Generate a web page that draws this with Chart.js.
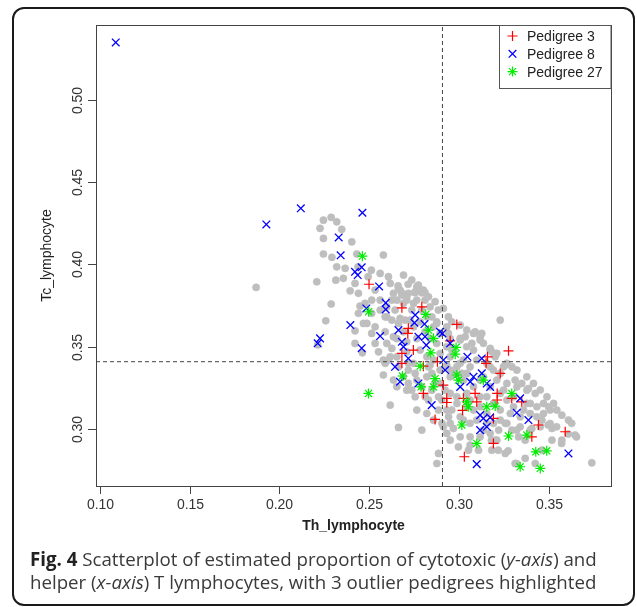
<!DOCTYPE html>
<html>
<head>
<meta charset="utf-8">
<script src="https://cdn.jsdelivr.net/npm/chart.js@4.4.1/dist/chart.umd.min.js"></script>
<style>
    html, body { margin: 0; padding: 0; background: #fff; }
    #wrap { position: relative; width: 637px; height: 607px; overflow: hidden; }
    #frame {
        position: absolute; left: 12px; top: 7px; width: 623px; height: 599px;
        box-sizing: border-box; border: 2px solid #1a1a1a; border-radius: 12px;
    }
    #chart { position: absolute; left: 0; top: 0; }
    .cap {
        position: absolute; left: 30px; white-space: nowrap;
        font-family: "Open Sans", sans-serif; font-size: 18.7px; line-height: 22px; color: #3a3a3a;
    }
    .cap b { color: #222; }
</style>
</head>
<body>
<div id="wrap">
    <div id="frame"></div>
    <canvas id="chart" width="637" height="607"></canvas>
    <div class="cap" id="cap1" style="top:548px"><b>Fig. 4</b> Scatterplot of estimated proportion of cytotoxic (<i>y-axis</i>) and</div>
    <div class="cap" id="cap2" style="top:571px">helper (<i>x-axis</i>) T lymphocytes, with 3 outlier pedigrees highlighted</div>
</div>
<script>
// Axis ranges and ticks
const X_MIN = 0.0978, X_MAX = 0.3847;
const Y_MIN = 0.2652, Y_MAX = 0.5456;
const X_TICKS = [0.10, 0.15, 0.20, 0.25, 0.30, 0.35];
const Y_TICKS = [0.30, 0.35, 0.40, 0.45, 0.50];
const X_TITLE = 'Th_lymphocyte';
const Y_TITLE = 'Tc_lymphocyte';

// Reference lines (dashed)
const V_LINE = 0.2908;
const H_LINE = 0.3408;

// Legend
const LEGEND_LABELS = ['Pedigree 3', 'Pedigree 8', 'Pedigree 27'];

// All samples (grey), [Th, Tc]
const grayPts = [
    [0.187,0.386],
    [0.2245,0.4269],[0.2288,0.4286],[0.2319,0.4259],[0.2347,0.4213],[0.2226,0.4219],[0.2245,0.4158],[0.2403,0.4137],
    [0.2245,0.4063],[0.2292,0.4043],[0.2319,0.3985],[0.2366,0.3976],[0.2431,0.4063],[0.2438,0.3985],
    [0.2208,0.3894],[0.2314,0.3904],[0.2356,0.3915],
    [0.2394,0.3839],[0.244,0.3824],[0.2421,0.3884],
    [0.2288,0.3759],[0.2449,0.3746],[0.244,0.3702],[0.2258,0.3657],[0.2421,0.3596],[0.2468,0.3641],
    [0.2213,0.351],[0.2421,0.3519],[0.2462,0.3462],
    [0.2494,0.3925],[0.2512,0.3965],
    [0.2579,0.4057],[0.2561,0.3945],[0.2607,0.3925],
    [0.2691,0.3935],[0.2737,0.3905],[0.2774,0.3874],[0.2793,0.3827],
    [0.2663,0.3854],[0.2682,0.3813],[0.2709,0.3783],
    [0.2811,0.3783],[0.2867,0.3773],[0.2885,0.3722],
    [0.2533,0.3844],[0.2514,0.3783],[0.2477,0.3763],
    [0.2589,0.3681],[0.2626,0.3783],[0.2644,0.3722],
    [0.2514,0.3702],[0.2487,0.3641],[0.2533,0.362],[0.2626,0.3661],
    [0.2718,0.3824],[0.2756,0.3833],
    [0.2849,0.3681],[0.2876,0.3651],[0.2858,0.362],
    [0.2663,0.3641],[0.27,0.3661],[0.2589,0.359],
    [0.3127,0.358],[0.3035,0.356],[0.309,0.359],[0.2941,0.358],
    [0.2765,0.3863],[0.2802,0.3843],[0.283,0.3803],[0.2913,0.3732],[0.2941,0.3681],[0.296,0.3651],
    [0.3007,0.3631],[0.3043,0.3601],[0.3081,0.358],[0.3118,0.356],[0.3136,0.352],[0.3174,0.3479],[0.3202,0.3438],
    [0.323,0.3661],
    [0.2617,0.3884],[0.2635,0.3824],[0.2598,0.3681],[0.2635,0.356],[0.2598,0.3519],[0.2579,0.3418],[0.2617,0.3438],
    [0.2672,0.3844],[0.2709,0.3803],[0.2691,0.3763],[0.2747,0.3763],[0.2672,0.3671],[0.2728,0.3661],[0.2784,0.3651],
    [0.2839,0.3742],[0.2876,0.3641],[0.2932,0.362],[0.2876,0.3519],[0.2932,0.3499],[0.3007,0.354],[0.3043,0.3499],
    [0.3081,0.3479],[0.3025,0.3418],[0.3099,0.3418],[0.3155,0.3398],
    [0.2784,0.3479],[0.2821,0.3438],[0.2747,0.3398],[0.2839,0.3387],[0.2932,0.3387],[0.2988,0.3377],
    [0.3007,0.355],[0.3072,0.352],[0.3118,0.354],[0.3174,0.3489],[0.3211,0.3459],
    [0.3267,0.3398],[0.3323,0.3357],[0.3378,0.3316],[0.3415,0.3276],[0.3453,0.3236],[0.349,0.3195],[0.3527,0.3154],
    [0.3508,0.3114],[0.3471,0.3093],[0.3434,0.3073],[0.3453,0.3012],[0.3397,0.2992],[0.3508,0.3032],
    [0.2951,0.3438],[0.3007,0.3398],[0.3062,0.3377],[0.3174,0.3377],[0.3248,0.3377],[0.2951,0.3316],[0.3044,0.3337],
    [0.3118,0.3296],[0.3211,0.3296],[0.3267,0.3276],[0.3323,0.3255],[0.3378,0.3235],[0.2951,0.3215],[0.2988,0.3195],
    [0.3118,0.3195],[0.3155,0.3195],[0.3267,0.3175],[0.3378,0.3154],[0.3434,0.3134],[0.2932,0.3114],[0.3007,0.3073],
    [0.3081,0.3114],[0.323,0.3114],[0.3286,0.3093],[0.3341,0.3073],[0.2951,0.3033],[0.3062,0.3033],[0.3192,0.3033],
    [0.3267,0.3033],[0.3341,0.3012],[0.2932,0.2972],[0.3007,0.2951],[0.3118,0.2951],[0.3174,0.2972],[0.3211,0.2931],
    [0.3322,0.2992],[0.2913,0.3012],[0.2951,0.2931],[0.3062,0.2901],
    [0.3183,0.3468],[0.3258,0.3388],[0.3295,0.3377],[0.3313,0.3296],[0.335,0.3276],[0.3387,0.3245],[0.3425,0.3215],
    [0.3471,0.3154],[0.3499,0.3134],[0.3545,0.3114],[0.3573,0.3083],[0.361,0.3053],[0.3628,0.3033],[0.3647,0.2962],
    [0.3573,0.2931],[0.3518,0.3002],[0.3462,0.3053],[0.3406,0.3002],[0.3369,0.2931],[0.3332,0.2951],[0.3295,0.2992],
    [0.3258,0.3033],[0.3221,0.2992],[0.3202,0.2931],[0.3183,0.287],[0.3258,0.285],[0.3313,0.2789],[0.3369,0.282],
    [0.3425,0.2789],[0.3462,0.287],[0.3518,0.2931],[0.374,0.2793],
    [0.2626,0.3489],[0.2607,0.3418],[0.2589,0.3398],[0.2663,0.3377],[0.2718,0.3357],[0.2756,0.3337],[0.283,0.3377],
    [0.2849,0.3337],[0.2867,0.3276],[0.2812,0.3195],[0.283,0.3175],[0.2904,0.3175],
    [0.2737,0.3235],[0.2756,0.3195],[0.2718,0.3276],
    [0.2617,0.3144],[0.2663,0.3008],[0.2793,0.2992],
    [0.2886,0.3114],[0.296,0.3114],[0.2969,0.3002],[0.2905,0.3033],
    [0.2997,0.289],[0.3053,0.287],[0.3109,0.287],
    [0.2886,0.285],[0.2877,0.2789],
    [0.3655,0.2951],[0.3609,0.2968],[0.3572,0.2911],[0.3544,0.3012],[0.3497,0.3023],[0.3274,0.2866],[0.3321,0.2789],
    [0.3219,0.287],[0.3181,0.2931],
    [0.2661,0.3869],[0.2717,0.3879],[0.2773,0.3869],[0.2811,0.3828],[0.2755,0.3828],[0.268,0.3828],
    [0.2579,0.3327],[0.2635,0.3296],[0.2691,0.3316],[0.2654,0.3256],[0.2709,0.3235],[0.2765,0.3296],[0.2793,0.3256],
    [0.2849,0.3235],[0.2895,0.3276],[0.2923,0.3235],[0.2886,0.3195],[0.2765,0.3114],[0.2821,0.3093],[0.2858,0.3053],
    [0.2942,0.3073],[0.2989,0.3154],[0.3044,0.3215],[0.3081,0.3256],[0.3025,0.3296],[0.2979,0.3337],[0.3062,0.3175],
    [0.3118,0.3134],[0.3155,0.3093],[0.3192,0.3154],[0.323,0.3215],[0.3174,0.3256],[0.3136,0.3316],[0.3192,0.3357],
    [0.323,0.3337],[0.3249,0.3236],[0.3304,0.3195],[0.3304,0.3134],[0.336,0.3114],[0.3397,0.3093],[0.3397,0.3154],
    [0.3044,0.3134],[0.3025,0.3053],[0.3099,0.3053],[0.3155,0.3033],[0.323,0.3053],[0.3137,0.2992],[0.3062,0.2951],
    [0.2561,0.3783],[0.2561,0.3722],[0.2598,0.3742],[0.2654,0.3783],[0.2737,0.3722],[0.2793,0.3722],[0.2765,0.3783],
    [0.2821,0.3681],[0.2747,0.362],[0.2812,0.359],[0.2691,0.359],[0.2654,0.3549],[0.2709,0.3529],[0.2765,0.3549],
    [0.284,0.3549],[0.2895,0.358],[0.2951,0.3549],[0.2895,0.3458],[0.2858,0.3418],[0.296,0.3479],[0.2709,0.3468],
    [0.2654,0.3438],[0.2718,0.3398],[0.2895,0.3357],[0.2821,0.3316],[0.2951,0.3357],[0.3016,0.3337],
    [0.2514,0.358],[0.2533,0.3519],[0.2552,0.3468]
];

// Pedigree 3 (red +)
const ped3Pts = [
    [0.2499,0.3879],[0.2682,0.3736],[0.2793,0.3742],[0.2718,0.3611],[0.2715,0.358],[0.2988,0.3635],
    [0.2951,0.3535],[0.2746,0.3479],[0.2682,0.3459],[0.2682,0.3398],[0.2802,0.3381],[0.288,0.3408],
    [0.3159,0.3438],[0.3151,0.3398],[0.3276,0.3474],[0.323,0.3337],[0.2913,0.3266],[0.2802,0.3215],
    [0.3213,0.3215],[0.3213,0.3175],[0.309,0.3215],[0.3025,0.3185],[0.302,0.3112],[0.2932,0.3185],
    [0.2932,0.316],[0.3294,0.3185],[0.335,0.3164],[0.3099,0.3164],[0.3192,0.3063],[0.3443,0.3023],
    [0.3406,0.2951],[0.3192,0.2911],[0.3592,0.2982],[0.2867,0.3057],[0.303,0.283]
];

// Pedigree 8 (blue x)
const ped8Pts = [
    [0.1088,0.535],[0.1927,0.4243],[0.2119,0.4341],[0.2462,0.4314],[0.233,0.4164],[0.2341,0.4055],
    [0.2421,0.3955],[0.2436,0.3935],[0.2458,0.3982],[0.2555,0.3866],[0.2395,0.3631],[0.2213,0.352],
    [0.2226,0.355],[0.2458,0.349],[0.2484,0.3732],[0.2592,0.3766],[0.2592,0.3726],[0.2756,0.3692],
    [0.2752,0.3645],[0.2808,0.3637],[0.2663,0.36],[0.2908,0.358],[0.2561,0.3564],[0.2774,0.356],
    [0.2811,0.356],[0.2682,0.3529],[0.2691,0.3499],[0.2818,0.3509],[0.2718,0.3428],[0.2644,0.3377],
    [0.2913,0.3418],[0.3047,0.3438],[0.3127,0.3428],[0.2895,0.359],[0.2951,0.352],[0.2923,0.3357],
    [0.3081,0.3316],[0.3127,0.3337],[0.3063,0.3286],[0.3007,0.3255],[0.3155,0.3276],[0.3174,0.3255],
    [0.3341,0.3185],[0.3322,0.3097],[0.3118,0.3083],[0.3136,0.3063],[0.3174,0.3069],[0.3387,0.3053],
    [0.3155,0.3012],[0.3118,0.2992],[0.361,0.285],[0.3099,0.2785],[0.2672,0.3286],[0.2774,0.3276],
    [0.2848,0.3144]
];

// Pedigree 27 (green *)
const ped27Pts = [
    [0.2462,0.405],[0.2497,0.3712],[0.2815,0.3696],[0.283,0.36],[0.2858,0.355],[0.2984,0.3495],
    [0.2979,0.3454],[0.2843,0.3462],[0.2784,0.3381],[0.2685,0.3321],[0.2496,0.3215],[0.2988,0.3327],
    [0.2997,0.3296],[0.3136,0.3296],[0.2867,0.3305],[0.2858,0.3255],[0.2789,0.3255],[0.3294,0.3215],
    [0.3043,0.3164],[0.3052,0.3134],[0.3155,0.3134],[0.3202,0.3138],[0.3016,0.3023],[0.3276,0.2956],
    [0.3378,0.2962],[0.3099,0.2911],[0.3428,0.286],[0.3489,0.2866],[0.3341,0.2769],[0.3453,0.2759]
];

function toXY(pts) {
    return pts.map(p => ({ x: p[0], y: p[1] }));
}

// R-like axes, box, legend
const rAxes = {
    id: 'rAxes',
    afterDraw(chart) {
        const ctx = chart.ctx;
        const area = chart.chartArea;
        const xs = chart.scales.x;
        const ys = chart.scales.y;
        ctx.save();

        // box
        ctx.strokeStyle = '#444';
        ctx.lineWidth = 1;
        ctx.strokeRect(area.left + 0.5, area.top + 0.5, area.right - area.left, area.bottom - area.top);

        ctx.fillStyle = '#333';
        ctx.font = '14px "Liberation Sans", Arial, sans-serif';

        // x axis
        ctx.textAlign = 'center';
        ctx.textBaseline = 'alphabetic';
        X_TICKS.forEach(v => {
            const px = Math.round(xs.getPixelForValue(v)) + 0.5;
            ctx.beginPath();
            ctx.moveTo(px, area.bottom);
            ctx.lineTo(px, area.bottom + 8);
            ctx.stroke();
            ctx.fillText(v.toFixed(2), px, area.bottom + 23);
        });

        // y axis (rotated labels)
        Y_TICKS.forEach(v => {
            const py = Math.round(ys.getPixelForValue(v)) + 0.5;
            ctx.beginPath();
            ctx.moveTo(area.left - 8, py);
            ctx.lineTo(area.left, py);
            ctx.stroke();
            ctx.save();
            ctx.translate(area.left - 14.5, py);
            ctx.rotate(-Math.PI / 2);
            ctx.fillText(v.toFixed(2), 0, 0);
            ctx.restore();
        });

        // titles
        ctx.fillStyle = '#222';
        ctx.font = 'bold 14px "Liberation Sans", Arial, sans-serif';
        ctx.fillText(X_TITLE, (area.left + area.right) / 2, area.bottom + 44);
        ctx.font = '14px "Liberation Sans", Arial, sans-serif';
        ctx.save();
        ctx.translate(area.left - 45.5, (area.top + area.bottom) / 2);
        ctx.rotate(-Math.PI / 2);
        ctx.fillText(Y_TITLE, 0, 0);
        ctx.restore();

        // legend
        const lx = 499.5, ly = area.top + 0.5, lw = area.right - 499.5, lh = 63;
        ctx.fillStyle = '#fff';
        ctx.fillRect(lx, ly, lw, lh);
        ctx.strokeStyle = '#555';
        ctx.strokeRect(lx, ly, lw, lh);
        ctx.textAlign = 'left';
        ctx.font = '14px "Liberation Sans", Arial, sans-serif';
        const sets = [chart.data.datasets[0], chart.data.datasets[1], chart.data.datasets[2]];
        sets.forEach((ds, i) => {
            const cy = area.top + 11 + i * 17.8;
            ctx.strokeStyle = ds.borderColor;
            ctx.lineWidth = ds.borderWidth;
            Chart.helpers.drawPoint(ctx, { pointStyle: ds.pointStyle, radius: ds.pointRadius, rotation: 0, borderWidth: ds.borderWidth }, 512.5, cy);
            ctx.fillStyle = '#222';
            ctx.fillText(LEGEND_LABELS[i], 527, cy + 5);
        });

        ctx.restore();
    }
};

const ctx = document.getElementById('chart').getContext('2d');
const chart = new Chart(ctx, {
    type: 'scatter',
    data: {
        datasets: [
            {
                label: LEGEND_LABELS[0],
                data: toXY(ped3Pts),
                pointStyle: 'cross',
                pointRadius: 5,
                borderWidth: 1.2,
                borderColor: '#ff0000',
                backgroundColor: '#ff0000',
                order: 3
            },
            {
                label: LEGEND_LABELS[1],
                data: toXY(ped8Pts),
                pointStyle: 'crossRot',
                pointRadius: 5.4,
                borderWidth: 1.3,
                borderColor: '#0000ff',
                backgroundColor: '#0000ff',
                order: 2
            },
            {
                label: LEGEND_LABELS[2],
                data: toXY(ped27Pts),
                pointStyle: 'star',
                pointRadius: 5,
                borderWidth: 1.2,
                borderColor: '#00ee00',
                backgroundColor: '#00ee00',
                order: 1
            },
            {
                label: 'all',
                data: toXY(grayPts),
                pointStyle: 'circle',
                pointRadius: 3.6,
                borderWidth: 0.6,
                borderColor: '#bebebe',
                backgroundColor: '#bebebe',
                order: 4
            },
            {
                label: 'vline',
                data: [{ x: V_LINE, y: Y_MIN }, { x: V_LINE, y: Y_MAX }],
                showLine: true,
                pointRadius: 0,
                borderColor: '#444',
                borderWidth: 1,
                borderDash: [4, 3],
                order: 0
            },
            {
                label: 'hline',
                data: [{ x: X_MIN, y: H_LINE }, { x: X_MAX, y: H_LINE }],
                showLine: true,
                pointRadius: 0,
                borderColor: '#444',
                borderWidth: 1,
                borderDash: [4, 3],
                order: 0
            }
        ]
    },
    options: {
        responsive: false,
        animation: false,
        layout: { padding: { left: 96, top: 25, right: 26, bottom: 121 } },
        scales: {
            x: { type: 'linear', min: X_MIN, max: X_MAX, display: false },
            y: { type: 'linear', min: Y_MIN, max: Y_MAX, display: false }
        },
        plugins: {
            legend: { display: false },
            tooltip: { enabled: false }
        }
    },
    plugins: [rAxes]
});
</script>
</body>
</html>
